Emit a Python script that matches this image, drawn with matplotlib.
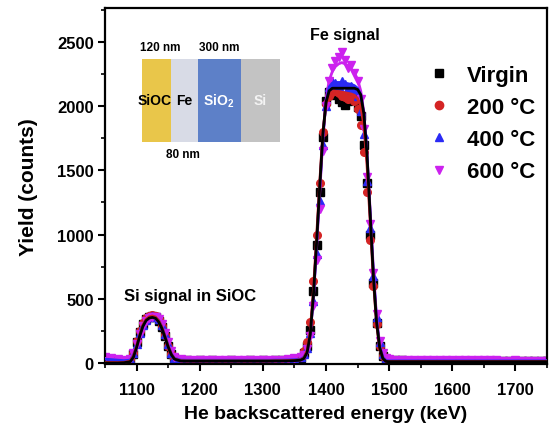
import matplotlib
matplotlib.use("Agg")
import matplotlib.pyplot as plt
from matplotlib.ticker import MultipleLocator
from matplotlib.lines import Line2D
from matplotlib.patches import Rectangle

plt.rcParams['font.family'] = ['Liberation Sans', 'DejaVu Sans']
plt.rcParams['mathtext.fontset'] = 'custom'
plt.rcParams['mathtext.rm'] = 'Liberation Sans:bold'
plt.rcParams['mathtext.bf'] = 'Liberation Sans:bold'

energy = [1050, 1060, 1070, 1080, 1090,
          1095, 1100, 1105, 1110, 1115, 1120, 1125, 1130, 1135, 1140, 1145, 1150, 1155, 1160,
          1170, 1180, 1190, 1200, 1210, 1220, 1230, 1240, 1250, 1260, 1270, 1280, 1290, 1300,
          1310, 1320, 1330, 1340, 1350,
          1360, 1365, 1370, 1375, 1380, 1385, 1390, 1395, 1400, 1405, 1410, 1415, 1420, 1425,
          1430, 1435, 1440, 1445, 1450, 1455, 1460, 1465, 1470, 1475, 1480, 1485, 1490, 1495,
          1500, 1510, 1520, 1530, 1540, 1550, 1560, 1570, 1580, 1590, 1600, 1610, 1620, 1630,
          1640, 1650, 1660, 1670, 1680, 1690, 1700, 1710, 1720, 1730, 1740, 1750]

virgin = [22, 18, 14, 12, 25,
          70, 160, 240, 300, 340, 355, 362, 355, 330, 280, 210, 130, 70, 35,
          22, 20, 19, 21, 18, 20, 19, 18, 20, 19, 18, 20, 19, 20, 18, 20, 22, 24, 28,
          40, 75, 130, 260, 560, 920, 1330, 1760, 2040, 2110, 2120, 2090, 2060, 2030,
          2010, 2040, 2080, 2070, 1990, 1920, 1700, 1400, 1000, 620, 310, 130, 55, 30,
          25, 22, 20, 19, 18, 18, 17, 17, 18, 17, 16, 17, 16, 16, 17, 16, 15, 16, 15, 15,
          16, 15, 14, 15, 14, 14]
t200 = [28, 22, 16, 13, 28,
        80, 170, 250, 310, 350, 368, 375, 368, 340, 290, 215, 135, 72, 36,
        24, 21, 20, 22, 19, 21, 20, 19, 21, 20, 19, 21, 20, 21, 19, 21, 23, 26, 32,
        50, 90, 160, 320, 640, 1000, 1400, 1800, 2020, 2080, 2110, 2120, 2100, 2080,
        2070, 2060, 2080, 2040, 1980, 1850, 1640, 1330, 960, 600, 300, 130, 55, 30,
        26, 23, 21, 20, 19, 19, 18, 18, 18, 17, 17, 17, 16, 17, 16, 16, 16, 16, 15, 15,
        16, 15, 15, 15, 14, 14]
t400 = [38, 32, 26, 20, 30,
        75, 150, 230, 295, 335, 355, 365, 360, 340, 295, 225, 145, 80, 42,
        28, 25, 24, 25, 23, 24, 24, 23, 24, 23, 23, 24, 23, 24, 23, 24, 26, 28, 34,
        45, 70, 120, 230, 480, 850, 1260, 1700, 2000, 2150, 2200, 2180, 2160, 2200,
        2170, 2140, 2160, 2130, 2080, 1960, 1780, 1420, 1050, 680, 360, 160, 70, 35,
        30, 27, 25, 24, 23, 23, 22, 22, 22, 21, 21, 21, 20, 21, 20, 20, 20, 20, 19, 19,
        20, 19, 19, 19, 18, 18]
t600 = [45, 40, 34, 26, 32,
        80, 150, 225, 290, 330, 350, 360, 355, 340, 300, 235, 160, 95, 50,
        30, 27, 25, 26, 24, 25, 25, 24, 25, 24, 24, 25, 24, 25, 24, 25, 27, 30, 36,
        45, 65, 110, 210, 440, 800, 1200, 1650, 2000, 2200, 2300, 2350, 2380, 2420,
        2360, 2300, 2320, 2260, 2200, 2060, 1820, 1450, 1080, 700, 380, 170, 75, 38,
        30, 27, 25, 24, 23, 23, 22, 22, 22, 21, 21, 21, 20, 21, 20, 20, 20, 20, 19, 19,
        20, 19, 19, 19, 18, 18]

fit_virgin = [0, 0, 0, 2, 10,
              45, 120, 210, 285, 330, 350, 355, 348, 320, 270, 200, 125, 65, 30,
              15, 14, 14, 14, 14, 14, 14, 14, 14, 14, 14, 14, 14, 14, 14, 15, 15, 16, 18,
              22, 35, 80, 220, 520, 930, 1370, 1780, 2030, 2120, 2140, 2140, 2140, 2140,
              2140, 2140, 2140, 2140, 2130, 2090, 1940, 1620, 1150, 680, 320, 120, 35, 12,
              10, 10, 10, 10, 10, 10, 10, 10, 10, 10, 10, 10, 10, 10, 10, 10, 10, 10, 10, 10,
              10, 10, 10, 10, 10, 10]
fit_200 = [5, 4, 3, 5, 14,
           55, 130, 220, 295, 340, 360, 366, 358, 330, 278, 206, 130, 68, 32,
           17, 16, 16, 16, 16, 16, 16, 16, 16, 16, 16, 16, 16, 16, 16, 17, 17, 18, 20,
           25, 40, 95, 250, 560, 970, 1400, 1790, 2020, 2100, 2115, 2115, 2115, 2110,
           2105, 2100, 2095, 2085, 2060, 2000, 1850, 1540, 1100, 650, 310, 115, 35, 12,
           11, 11, 11, 11, 11, 11, 11, 11, 11, 11, 11, 11, 11, 11, 11, 11, 11, 11, 11, 11,
           11, 11, 11, 11, 11, 11]
fit_400 = [30, 26, 22, 18, 22,
           60, 130, 215, 288, 333, 352, 360, 354, 330, 282, 212, 135, 72, 36,
           22, 21, 21, 21, 21, 21, 21, 21, 21, 21, 21, 21, 21, 21, 21, 22, 22, 23, 25,
           30, 45, 90, 230, 520, 920, 1350, 1760, 2030, 2150, 2180, 2185, 2185, 2185,
           2180, 2175, 2170, 2160, 2140, 2090, 1930, 1600, 1150, 700, 340, 130, 45, 18,
           16, 16, 16, 16, 16, 16, 16, 16, 16, 16, 16, 16, 16, 16, 16, 16, 16, 16, 16, 16,
           16, 16, 16, 16, 16, 16]
fit_600 = [36, 32, 27, 22, 25,
           62, 128, 210, 282, 326, 346, 354, 350, 330, 288, 222, 145, 82, 42,
           24, 23, 23, 23, 23, 23, 23, 23, 23, 23, 23, 23, 23, 23, 23, 24, 24, 25, 27,
           32, 46, 88, 220, 500, 890, 1320, 1740, 2050, 2200, 2270, 2310, 2330, 2340,
           2330, 2310, 2290, 2260, 2210, 2120, 1950, 1620, 1180, 730, 360, 140, 50, 20,
           17, 17, 17, 17, 17, 17, 17, 17, 17, 17, 17, 17, 17, 17, 17, 17, 17, 17, 17, 17,
           17, 17, 17, 17, 17, 17]

labels = ['Virgin', '200 \u00b0C', '400 \u00b0C', '600 \u00b0C']
colors = ['#000000', '#d42424', '#2a2af5', '#cc22ee']
markers = ['s', 'o', '^', 'v']
series = [virgin, t200, t400, t600]
fits = [fit_virgin, fit_200, fit_400, fit_600]

layer_names = ['SiOC', 'Fe', r'SiO$_\mathregular{2}$', 'Si']
layer_colors = ['#e9c64a', '#d8dbe6', '#5d80c8', '#c3c3c3']
layer_text_colors = ['black', 'black', 'white', '#f4f4f4']

fig = plt.figure(figsize=(5.5, 4.27), dpi=100)
ax = fig.add_axes([105/550, 1-365/427, (547-105)/550, (365-9)/427])

for s, c, m in zip(series, colors, markers):
    ax.plot(energy, s, linestyle='none', marker=m, color=c, markersize=5.5, zorder=2)
for f, c, z in zip(fits[::-1], colors[::-1], [3, 4, 5, 6]):
    ax.plot(energy, f, color=c, linewidth=2.0, zorder=z)

ax.set_xlim(1050, 1750)
ax.set_ylim(-8, 2765)
ax.xaxis.set_major_locator(MultipleLocator(100))
ax.xaxis.set_minor_locator(MultipleLocator(50))
ax.yaxis.set_major_locator(MultipleLocator(500))
ax.yaxis.set_minor_locator(MultipleLocator(250))
ax.tick_params(which='major', direction='out', length=5, width=1.5, labelsize=12)
ax.tick_params(axis='x', which='major', pad=8)
ax.tick_params(axis='y', which='major', pad=3)
ax.tick_params(which='minor', direction='out', length=3, width=1.2)
for lab in ax.get_xticklabels() + ax.get_yticklabels():
    lab.set_fontweight('bold')
for sp in ax.spines.values():
    sp.set_linewidth(1.6)

ax.set_xlabel('He backscattered energy (keV)', fontsize=14, fontweight='bold', labelpad=6)
ax.set_ylabel('Yield (counts)', fontsize=15, fontweight='bold', labelpad=14)

ax.text(1430, 2562, 'Fe signal', fontsize=11.5, fontweight='bold', ha='center', va='center')
ax.text(1185, 522, 'Si signal in SiOC', fontsize=12, fontweight='bold', ha='center', va='center')

handles = [Line2D([], [], linestyle='none', marker=m, color=c, markersize=6)
           for m, c in zip(markers, colors)]
leg = ax.legend(handles, labels, loc='upper left', bbox_to_anchor=(408/550, 1-46/427),
                bbox_transform=fig.transFigure, frameon=False, handletextpad=0.77,
                labelspacing=0.5, handlelength=1.0, borderpad=0.4,
                prop={'family': 'Liberation Sans', 'weight': 'bold', 'size': 16})

# inset layer diagram
iax = fig.add_axes([142/550, 1-143/427, (280-142)/550, (143-60)/427])
iax.set_xlim(0, 138)
iax.set_ylim(0, 1)
iax.axis('off')
widths = [29, 27, 43, 39]
x0 = 0
for w, name, fc, tc in zip(widths, layer_names, layer_colors, layer_text_colors):
    iax.add_patch(Rectangle((x0, 0), w, 1, facecolor=fc, edgecolor='none'))
    x0 += w
centers = [13, 42, 77, 118]
for cx, name, tc in zip(centers, layer_names, layer_text_colors):
    iax.text(cx, 0.5, name, ha='center', va='center', fontsize=10, fontweight='bold', color=tc)
fig.text(160/550, 1-48/427, '120 nm', ha='center', va='center', fontsize=8.5, fontweight='bold')
fig.text(219/550, 1-48/427, '300 nm', ha='center', va='center', fontsize=8.5, fontweight='bold')
fig.text(183/550, 1-155/427, '80 nm', ha='center', va='center', fontsize=8.5, fontweight='bold')

fig.savefig('out.png', dpi=100)
